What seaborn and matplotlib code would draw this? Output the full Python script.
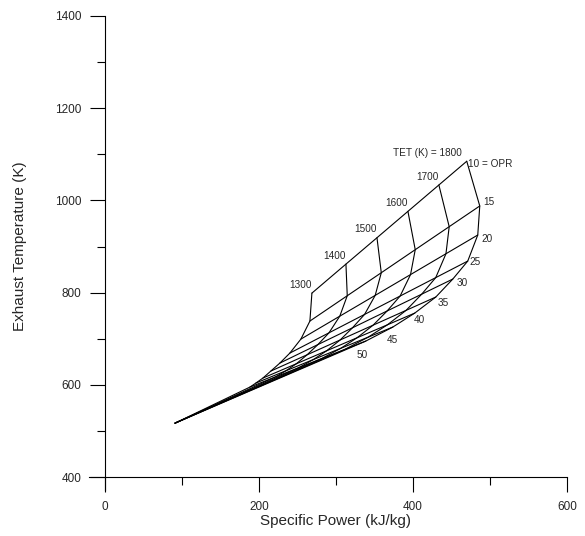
import pandas as pd
import matplotlib.pyplot as plt
import seaborn as sns

# Carpet of exhaust temperature vs specific power
tet = [1300, 1400, 1500, 1600, 1700, 1800]
opr = [10, 15, 20, 25, 30, 35, 40, 45, 50]

# specific power (kJ/kg) at each OPR, one list per TET
sp_1300 = [268.7, 266.1, 254.4, 240.1, 227.1, 215.4, 205.1, 196.0, 188.2]
sp_1400 = [312.9, 314.6, 304.9, 290.9, 276.5, 262.5, 248.5, 235.1, 221.3]
sp_1500 = [353.2, 358.8, 350.9, 337.1, 321.4, 305.4, 287.9, 270.7, 251.4]
sp_1600 = [393.4, 402.9, 396.8, 383.3, 366.4, 348.2, 327.4, 306.2, 281.5]
sp_1700 = [433.6, 447.0, 442.8, 429.5, 411.3, 391.0, 366.8, 341.8, 311.6]
sp_1800 = [469.8, 486.7, 484.1, 471.1, 451.7, 429.6, 402.3, 373.8, 338.7]

# exhaust temperature (K) at each OPR, one list per TET
egt_1300 = [799.0, 738.4, 699.3, 669.0, 647.3, 630.0, 614.8, 604.0, 595.2]
egt_1400 = [861.9, 793.3, 749.0, 712.9, 687.4, 665.3, 645.8, 630.7, 617.2]
egt_1500 = [919.1, 843.2, 794.1, 752.8, 723.8, 697.4, 674.0, 655.0, 637.1]
egt_1600 = [976.3, 893.2, 839.2, 792.7, 760.3, 729.5, 702.2, 679.3, 657.1]
egt_1700 = [1033.5, 943.1, 884.4, 832.6, 796.7, 761.6, 730.3, 703.5, 677.0]
egt_1800 = [1085.0, 988.0, 925.0, 868.5, 829.5, 790.5, 755.7, 725.4, 695.0]

# point where all TET lines meet at high OPR
sp_end = 90.9
egt_end = 517.0

sp_all = [sp_1300, sp_1400, sp_1500, sp_1600, sp_1700, sp_1800]
egt_all = [egt_1300, egt_1400, egt_1500, egt_1600, egt_1700, egt_1800]

rows = []
# constant TET lines (run through the OPR nodes, then to the end point)
for t, sps, egts in zip(tet, sp_all, egt_all):
    for k, (s, e) in enumerate(zip(sps, egts)):
        rows.append(dict(line=f"TET{t}", order=k, sp=s, egt=e))
    rows.append(dict(line=f"TET{t}", order=len(sps), sp=sp_end, egt=egt_end))
# constant OPR lines
for j, p in enumerate(opr):
    for i, t in enumerate(tet):
        rows.append(dict(line=f"OPR{p}", order=i, sp=sp_all[i][j], egt=egt_all[i][j]))
df = pd.DataFrame(rows).sort_values(["line", "order"])

sns.set_style("ticks")
plt.rcParams["font.family"] = ["Liberation Sans", "DejaVu Sans"]

fig = plt.figure(figsize=(5.85, 5.36), dpi=100)
# axes box runs a little past x=0 / y=400 so the axis lines cross
ax = fig.add_axes([89 / 585, 46 / 536, 478 / 585, 474 / 536])

sns.lineplot(data=df, x="sp", y="egt", units="line", estimator=None, sort=False,
             color="black", linewidth=0.8, ax=ax, legend=False)

# TET labels at the OPR = 10 end
for i, t in enumerate(tet):
    txt = "TET (K) = 1800" if t == 1800 else str(t)
    dx = -3.5 if t == 1800 else 0
    ax.annotate(txt, (sp_all[i][0], egt_all[i][0]), xytext=(dx, 6),
                textcoords="offset points", ha="right", va="center", fontsize=7.2)

# OPR labels at the TET = 1800 end
opr_off = [(1, -2), (2.5, 2.5), (3, -3), (1.5, -1), (3, -3), (1, -4.5), (-1, -5), (-4.5, -9.5), (-6.5, -10)]
for j, p in enumerate(opr):
    txt = "10 = OPR" if p == 10 else str(p)
    ax.annotate(txt, (sp_1800[j], egt_1800[j]), xytext=opr_off[j],
                textcoords="offset points", ha="left", va="center", fontsize=7.2)

ax.set_xlim(-20.8, 600)
ax.set_ylim(372, 1400)
ax.spines["left"].set_position(("data", 0))
ax.spines["bottom"].set_position(("data", 400))
ax.set_xticks([0, 200, 400, 600])
ax.set_xticks([100, 300, 500], minor=True)
ax.set_yticks([400, 600, 800, 1000, 1200, 1400])
ax.set_yticks([500, 700, 900, 1100, 1300], minor=True)
ax.tick_params(which="major", length=11, width=0.8, direction="out", pad=6, labelsize=8.5, color="black")
ax.tick_params(which="minor", length=6, width=0.8, direction="out", color="black")

for s in ["top", "right"]:
    ax.spines[s].set_visible(False)
for s in ["left", "bottom"]:
    ax.spines[s].set_linewidth(0.8)
    ax.spines[s].set_color("black")

ax.set_xlabel("Specific Power (kJ/kg)", fontsize=11, labelpad=1)
ax.set_ylabel("Exhaust Temperature (K)", fontsize=11)
ax.xaxis.label.set_x((336 - 89) / 478)
ax.yaxis.set_label_coords((27 - 89) / 478, (490 - 246) / 474)

fig.savefig("out.png", dpi=100)
